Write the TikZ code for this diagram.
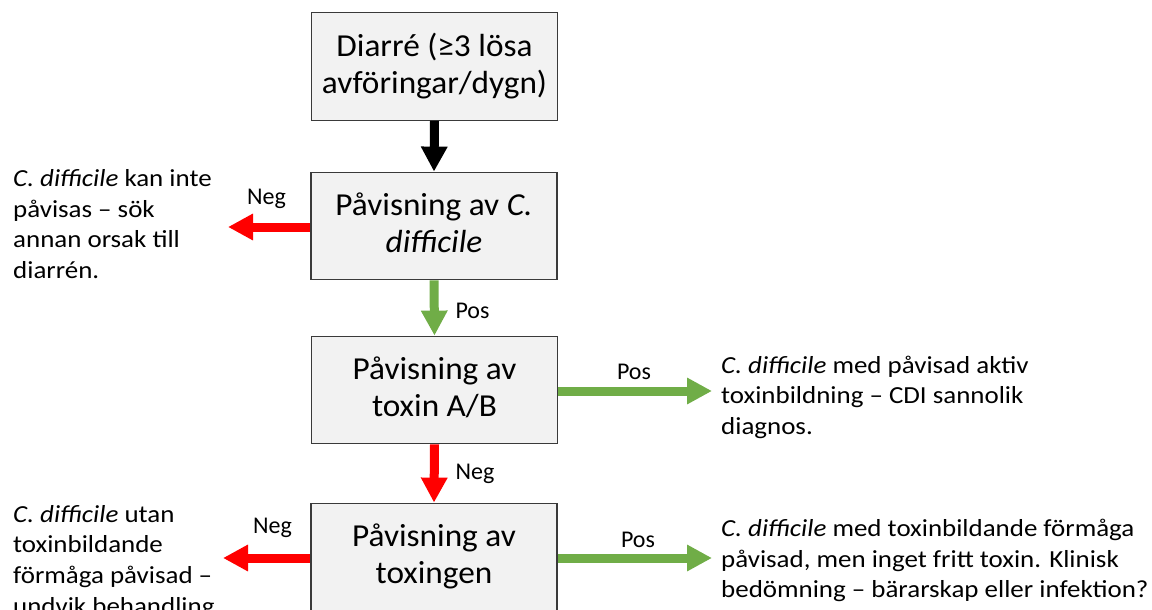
\documentclass[tikz,border=0pt]{standalone}
\usepackage{fontspec}
\setmainfont{Carlito}
\newfontfamily\boxfont{Carlito}[FakeStretch=1.04]
\newfontfamily\sidefont{Carlito}[FakeStretch=1.1]
\usetikzlibrary{arrows.meta}
\definecolor{boxfill}{HTML}{F2F2F2}
\definecolor{boxline}{HTML}{3A3A3A}
\definecolor{posgreen}{HTML}{70AD47}
\definecolor{negred}{HTML}{FF0000}
\newcommand\bxs{\rule[-7pt]{0pt}{25.4pt}}
\tikzset{
  stepbox/.style={draw=boxline, line width=1.3pt, fill=boxfill, minimum width=246pt, minimum height=107.5pt,
    align=center, inner sep=0pt, font=\boxfont\fontsize{32}{36.7}\selectfont},
  sidetext/.style={align=left, inner sep=0pt, anchor=base west, font=\sidefont\fontsize{24.5}{30.6}\selectfont},
  lbl/.style={inner sep=0pt, anchor=base, font=\fontsize{24}{28}\selectfont},
  fatarrow/.style={line width=9pt, -{Triangle[length=25pt,width=25pt]}},
  blackarrow/.style={fatarrow, draw=black},
  posarrow/.style={fatarrow, draw=posgreen},
  negarrow/.style={fatarrow, draw=negred},
}
\begin{document}
\begin{tikzpicture}[x=1pt,y=-1pt]
\useasboundingbox (0,0) rectangle (1152,610);
\node[stepbox] (b1) at (434.5,66.5) {\bxs Diarré (≥3 lösa\\\bxs avföringar/dygn)};
\node[stepbox] (b2) at (434,226) {\bxs Påvisning av \textit{C.}\\\bxs\textit{difficile}};
\node[stepbox] (b3) at (434.5,390) {\bxs Påvisning av\\\bxs toxin A/B};
\node[stepbox] (b4) at (434,557) {\bxs Påvisning av\\\bxs toxingen};

\coordinate (e2) at (228,227);
\coordinate (e3) at (712,391);
\coordinate (e4l) at (223,558);
\coordinate (e4r) at (712,558);

\draw[blackarrow] (b1.south) -- (b2.north);
\draw[posarrow] (b2.south) -- (b3.north);
\draw[negarrow] (b3.south) -- (b4.north);
\draw[negarrow] (b2.west |- e2) -- (e2);
\draw[posarrow] (b3.east |- e3) -- (e3);
\draw[negarrow] (b4.west |- e4l) -- (e4l);
\draw[posarrow] (b4.east |- e4r) -- (e4r);

\node[lbl] (l1) at (472.5,318) {Pos};
\node[lbl] (l2) at (475,479) {Neg};
\node[lbl] (l3) at (266.5,204) {Neg};
\node[lbl] (l4) at (634,379.5) {Pos};
\node[lbl] (l5) at (272.5,533) {Neg};
\node[lbl] (l6) at (638,547) {Pos};

\node[sidetext] (t2) at (13,278.5) {\textit{C. difficile} kan inte\\påvisas – sök\\annan orsak till\\diarrén.};
\node[sidetext] (t3) at (721,434.5) {\textit{C. difficile} med påvisad aktiv\\toxinbildning – CDI sannolik\\diagnos.};
\node[sidetext] (t4l) at (13,614) {\textit{C. difficile} utan\\toxinbildande\\förmåga påvisad –\\undvik behandling.};
\node[sidetext] (t4r) at (721,597.9) {\textit{C. difficile} med toxinbildande förmåga\\påvisad, men inget fritt toxin. Klinisk\\bedömning – bärarskap eller infektion?};
\end{tikzpicture}
\end{document}
